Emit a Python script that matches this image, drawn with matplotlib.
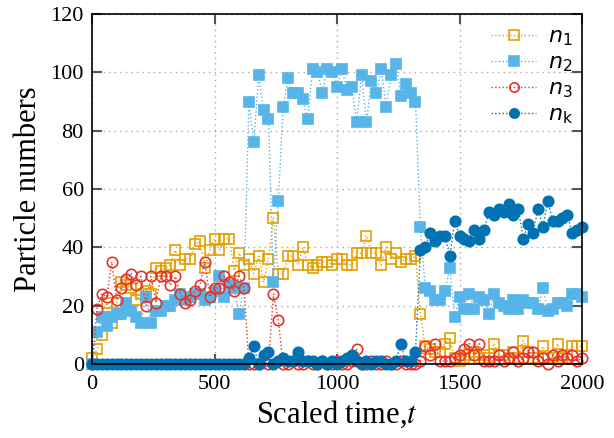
import numpy as np
import matplotlib.pyplot as plt
from matplotlib.font_manager import FontProperties

# sampling grid of the scaled time
t = np.arange(0, 2001, 20)

n1 = [2, 5, 10, 21, 14, 21, 28, 27, 26, 22,
      24, 25, 24, 33, 32, 33, 34, 39, 34, 36,
      36, 41, 42, 33, 39, 43, 39, 43, 43, 32,
      38, 34, 36, 31, 37, 28, 36, 50, 31, 31,
      37, 37, 34, 40, 34, 33, 34, 35, 35, 34,
      36, 36, 34, 34, 38, 38, 44, 38, 38, 34,
      40, 36, 38, 35, 36, 36, 37, 17, 6, 5,
      4, 4, 7, 9, 2, 1, 2, 3, 4, 2,
      3, 2, 7, 3, 3, 2, 4, 2, 8, 4,
      2, 2, 6, 2, 2, 7, 2, 3, 6, 6,
      6]

n2 = [0, 11, 16, 13, 16, 17, 17, 21, 18, 16,
      14, 23, 14, 18, 18, 20, 20, 22, 24, 22,
      23, 24, 24, 22, 23, 25, 30, 23, 27, 26,
      17, 26, 90, 76, 99, 87, 84, 28, 56, 88,
      98, 93, 93, 91, 84, 101, 100, 93, 101, 100,
      95, 101, 94, 95, 83, 99, 83, 97, 93, 101,
      88, 99, 103, 92, 96, 93, 90, 47, 26, 25,
      22, 22, 25, 33, 16, 23, 19, 24, 19, 23,
      22, 17, 24, 21, 20, 19, 22, 19, 22, 21,
      21, 19, 26, 18, 19, 21, 21, 20, 24, 24,
      23]

n3 = [0, 19, 24, 23, 35, 22, 26, 29, 31, 27,
      30, 20, 30, 21, 30, 30, 27, 30, 24, 21,
      22, 25, 27, 35, 23, 26, 26, 30, 28, 25,
      30, 26, 0, 0, 0, 1, 0, 24, 15, 0,
      0, 1, 0, 0, 1, 0, 0, 1, 0, 0,
      1, 0, 0, 1, 5, 0, 0, 1, 0, 0,
      1, 0, 0, 1, 0, 0, 0, 1, 6, 3,
      7, 1, 1, 1, 2, 3, 5, 7, 3, 7,
      1, 1, 1, 3, 1, 2, 4, 1, 2, 4,
      4, 1, 2, 0, 3, 1, 3, 2, 3, 1,
      2]

nk = [0] * 30 + [
      0, 0, 2, 6, 0, 3, 4, 0, 1, 2,
      1, 1, 4, 1, 1, 1, 0, 1, 0, 1,
      0, 1, 2, 3, 1, 0, 1, 0, 1, 1,
      0, 0, 1, 7, 1, 1, 4, 39, 40, 45,
      42, 44, 44, 37, 49, 44, 43, 42, 46, 43,
      46, 52, 51, 53, 52, 55, 51, 53, 43, 48,
      45, 53, 47, 56, 49, 49, 50, 51, 45, 46,
      47]

labels = [r'$n_1$', r'$n_2$', r'$n_3$', r'$n_\mathrm{k}$']

plt.rcParams['font.family'] = 'Liberation Serif'
plt.rcParams['mathtext.fontset'] = 'stix'

fig, ax = plt.subplots(figsize=(6.14, 4.38), dpi=100)
fig.subplots_adjust(left=0.150, right=0.948, bottom=0.169, top=0.968)

styles = [
    ('#E69F00', 's', 'none'),
    ('#56B4E9', 's', '#56B4E9'),
    ('#E8312A', 'o', 'none'),
    ('#0072B2', 'o', '#0072B2'),
]
for y, label, (color, marker, face) in zip([n1, n2, n3, nk], labels, styles):
    ax.plot(t, y, linestyle=':', linewidth=1.0, color=color,
            marker=marker, markersize=7.5, markerfacecolor=face,
            markeredgecolor=color, markeredgewidth=1.2,
            label=label, clip_on=False)

ax.set_xlim(0, 2000)
ax.set_ylim(0, 120)
ax.set_xticks([0, 500, 1000, 1500, 2000])
ax.set_yticks([0, 20, 40, 60, 80, 100, 120])
ax.grid(True, linestyle=(0, (1, 3)), color='#a8a8a8', linewidth=1.0)
ax.set_axisbelow(True)
ax.tick_params(direction='in', length=7, width=1.5, color='#555555',
               top=True, right=True, labelsize=16)
ax.tick_params(axis='x', pad=8)
ax.tick_params(axis='y', pad=6)
for s in ax.spines.values():
    s.set_linewidth(1.2)

ax.set_xlabel('Scaled time,$t$', fontsize=22, labelpad=3)
ax.set_ylabel('Particle numbers', fontsize=22, labelpad=5)

leg_font = FontProperties(family='DejaVu Sans', size=16, math_fontfamily='dejavusans')
ax.legend(loc='upper right', bbox_to_anchor=(1.0, 0.99), prop=leg_font,
          frameon=False, handlelength=2.0, labelspacing=0.2,
          borderaxespad=0.0, handletextpad=0.55, markerscale=0.9)

fig.savefig('out.png', dpi=100)
